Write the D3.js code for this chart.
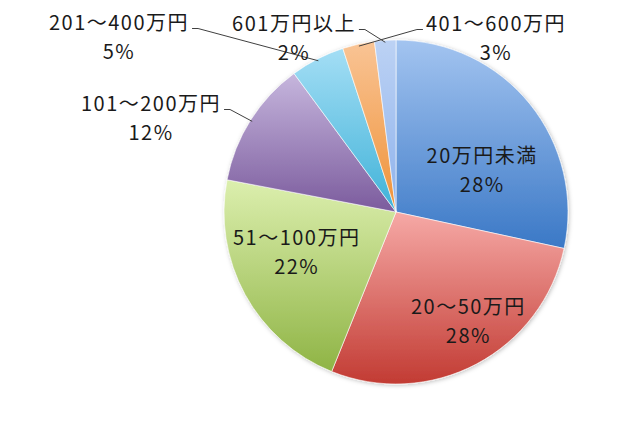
<!DOCTYPE html>
<html>
<head>
<meta charset="utf-8">
<script src="https://cdn.jsdelivr.net/npm/d3@7"></script>
<style>
  html, body { margin: 0; padding: 0; background: #fff; }
  text { font-family: "Noto Sans CJK JP", "Noto Sans", sans-serif; fill: #1a1a1a; }
</style>
</head>
<body>
<div id="chart"></div>
<script>
// Income bands and their shares (%), clockwise from 12 o'clock
const categories = ['20万円未満', '20～50万円', '51～100万円', '101～200万円', '201～400万円', '401～600万円', '601万円以上'];
const shares = [28.4, 27.7, 21.9, 11.9, 5.1, 3.0, 2.0];
const percentLabels = ['28%', '28%', '22%', '12%', '5%', '3%', '2%'];

// gradient stops per slice (top colour, bottom colour)
const topColors = ['#a3c4f0', '#f6a9a6', '#dcefae', '#c6b6dd', '#a4def5', '#f9c495', '#bcd2f4'];
const bottomColors = ['#3a78c6', '#c23b33', '#8fb445', '#7b5b9d', '#3fb2d8', '#ef9238', '#8eb2ec'];

const width = 640;
const height = 426;
const cx = 396;
const cy = 212;
const radius = 172;

// label layout: inside labels get a nudge from the centroid,
// outside labels get a centre relative to the pie centre
const insideNudge = {0: [-1, 29], 1: [20, 11], 2: [-1, -13]};
const outsideCentre = {3: [-245, -94], 4: [-277, -175], 5: [100, -174], 6: [-102, -174]};
const fontSize = 20;
const lineGap = 29;

const svg = d3.select('#chart')
  .append('svg')
  .attr('width', width)
  .attr('height', height);

const defs = svg.append('defs');

topColors.forEach((c, i) => {
  const g = defs.append('linearGradient')
    .attr('id', `grad${i}`)
    .attr('x1', 0).attr('y1', 0)
    .attr('x2', 0).attr('y2', 1);
  g.append('stop').attr('offset', '0%').attr('stop-color', c);
  g.append('stop').attr('offset', '100%').attr('stop-color', bottomColors[i]);
});

const shadow = defs.append('filter')
  .attr('id', 'shadow')
  .attr('x', '-10%').attr('y', '-10%')
  .attr('width', '120%').attr('height', '120%');
shadow.append('feDropShadow')
  .attr('dx', 1).attr('dy', 1)
  .attr('stdDeviation', 2)
  .attr('flood-color', '#000')
  .attr('flood-opacity', 0.25);

const pie = d3.pie().sort(null).value(d => d);
const arcs = pie(shares);

const arc = d3.arc().innerRadius(0).outerRadius(radius);
const labelArc = d3.arc().innerRadius(112).outerRadius(112);
const edgeArc = d3.arc().innerRadius(radius - 2).outerRadius(radius - 2);

const chartGroup = svg.append('g')
  .attr('transform', `translate(${cx}, ${cy})`);

chartGroup.append('g')
  .attr('filter', 'url(#shadow)')
  .selectAll('path')
  .data(arcs)
  .enter()
  .append('path')
  .attr('d', arc)
  .attr('fill', (d, i) => `url(#grad${i})`)
  .attr('stroke', '#ffffff')
  .attr('stroke-width', 0.6);

// labels
arcs.forEach((d, i) => {
  let x, y;
  if (insideNudge[i]) {
    const c = labelArc.centroid(d);
    x = c[0] + insideNudge[i][0];
    y = c[1] + insideNudge[i][1];
  } else {
    x = outsideCentre[i][0];
    y = outsideCentre[i][1];
  }
  const label = chartGroup.append('text')
    .attr('text-anchor', 'middle')
    .attr('font-size', fontSize)
    .attr('letter-spacing', 1.5);
  label.append('tspan')
    .attr('x', x).attr('y', y - lineGap / 2)
    .attr('dy', '0.35em')
    .text(categories[i]);
  label.append('tspan')
    .attr('x', x).attr('y', y + lineGap / 2)
    .attr('dy', '0.35em')
    .text(percentLabels[i]);

  if (!insideNudge[i]) {
    // leader line from first text line to slice edge
    const w = label.select('tspan').node().getComputedTextLength();
    const end = edgeArc.centroid(d);
    const side = end[0] > x ? 1 : -1;
    const sx = x + side * (w / 2 + 3);
    const sy = y - lineGap / 2 + 6;
    chartGroup.append('polyline')
      .attr('points', [[sx, sy], [sx + side * 6, sy], end].map(p => p.join(',')).join(' '))
      .attr('fill', 'none')
      .attr('stroke', '#404040')
      .attr('stroke-width', 1);
  }
});
</script>
</body>
</html>
